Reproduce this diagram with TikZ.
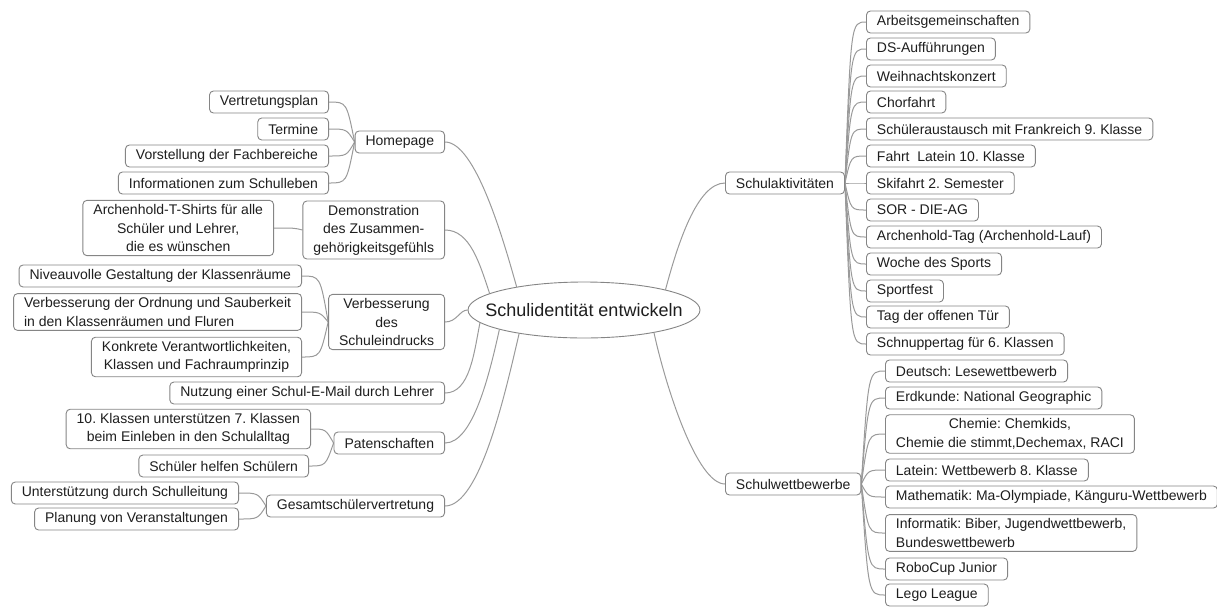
\documentclass[tikz,border=0pt]{standalone}
\usepackage{fontspec}
\setmainfont{Liberation Sans}
\usetikzlibrary{shapes.geometric,calc,backgrounds}
\definecolor{boxline}{HTML}{858585}
\definecolor{conn}{HTML}{9A9A9A}
\definecolor{txt}{HTML}{1E1E1E}
\frenchspacing
\tikzset{
  box/.style={draw=boxline, line width=0.9pt, rounded corners=4pt, fill=white, text=txt,
    font=\fontsize{14}{18.5}\selectfont, inner xsep=10.5pt, inner ysep=4pt, minimum height=22pt},
  link/.style={draw=conn, line width=1pt},
  centre/.style={ellipse, draw=boxline, line width=0.9pt, fill=white, text=txt,
    font=\fontsize{18}{20}\selectfont, inner xsep=-20pt, inner ysep=0pt,
    minimum width=232pt, minimum height=56pt}
}
\begin{document}
\begin{tikzpicture}[x=1pt,y=-1pt]
\useasboundingbox (0,0) rectangle (1217,606);
\node[centre] (c) at (584,310) {Schulidentität entwickeln};
% left side
\node[box, anchor=east] (hp1) at (329,102) {Vertretungsplan};
\node[box, anchor=east] (hp2) at (329,129) {Termine};
\node[box, anchor=east] (hp3) at (329,156) {Vorstellung der Fachbereiche};
\node[box, anchor=east] (hp4) at (329,183) {Informationen zum Schulleben};
\node[box, anchor=east] (hp) at (445,142) {Homepage};
\node[box, anchor=east, align=center] (dm1) at (274,228) {Archenhold-T-Shirts für alle\\Schüler und Lehrer,\\die es wünschen};
\node[box, anchor=east, align=center] (dm) at (445,230) {Demonstration\\des Zusammen-\\gehörigkeitsgefühls};
\node[box, anchor=east] (vs1) at (302,276) {Niveauvolle Gestaltung der Klassenräume};
\node[box, anchor=east, align=left] (vs2) at (302,312) {Verbesserung der Ordnung und Sauberkeit\\in den Klassenräumen und Fluren};
\node[box, anchor=east, align=center] (vs3) at (302,357) {Konkrete Verantwortlichkeiten,\\Klassen und Fachraumprinzip};
\node[box, anchor=east, align=center] (vs) at (445,322) {Verbesserung\\des\\Schuleindrucks};
\node[box, anchor=east] (nu) at (445,393) {Nutzung einer Schul-E-Mail durch Lehrer};
\node[box, anchor=east, align=center] (pa1) at (311,429) {10. Klassen unterstützen 7. Klassen\\beim Einleben in den Schulalltag};
\node[box, anchor=east] (pa2) at (309,466) {Schüler helfen Schülern};
\node[box, anchor=east] (pa) at (445,443) {Patenschaften};
\node[box, anchor=east] (gs1) at (239,493) {Unterstützung durch Schulleitung};
\node[box, anchor=east] (gs2) at (239,519) {Planung von Veranstaltungen};
\node[box, anchor=east] (gs) at (445,506) {Gesamtschülervertretung};
% right side
\node[box, anchor=west] (sa) at (725,183) {Schulaktivitäten};
\node[box, anchor=west] (a1) at (866,22) {Arbeitsgemeinschaften};
\node[box, anchor=west] (a2) at (866,49) {DS-Aufführungen};
\node[box, anchor=west] (a3) at (866,76) {Weihnachtskonzert};
\node[box, anchor=west] (a4) at (866,102) {Chorfahrt};
\node[box, anchor=west] (a5) at (866,129) {Schüleraustausch mit Frankreich 9. Klasse};
\node[box, anchor=west] (a6) at (866,156) {Fahrt\ \ Latein 10. Klasse};
\node[box, anchor=west] (a7) at (866,183) {Skifahrt 2. Semester};
\node[box, anchor=west] (a8) at (866,210) {SOR - DIE-AG};
\node[box, anchor=west] (a9) at (866,237) {Archenhold-Tag (Archenhold-Lauf)};
\node[box, anchor=west] (a10) at (866,264) {Woche des Sports};
\node[box, anchor=west] (a11) at (866,291) {Sportfest};
\node[box, anchor=west] (a12) at (866,317) {Tag der offenen Tür};
\node[box, anchor=west] (a13) at (866,344) {Schnuppertag für 6. Klassen};
\node[box, anchor=west] (sw) at (725,484) {Schulwettbewerbe};
\node[box, anchor=west] (b1) at (885,371) {Deutsch: Lesewettbewerb};
\node[box, anchor=west] (b2) at (885,398) {Erdkunde: National Geographic};
\node[box, anchor=west, align=center] (b3) at (885,434) {Chemie: Chemkids,\\Chemie die stimmt,Dechemax, RACI};
\node[box, anchor=west] (b4) at (885,470) {Latein: Wettbewerb 8. Klasse};
\node[box, anchor=west] (b5) at (885,497) {Mathematik: Ma-Olympiade, Känguru-Wettbewerb};
\node[box, anchor=west, align=left] (b6) at (885,533) {Informatik: Biber, Jugendwettbewerb,\\Bundeswettbewerb};
\node[box, anchor=west] (b7) at (885,569) {RoboCup Junior};
\node[box, anchor=west] (b8) at (885,595) {Lego League};
\begin{pgfonlayer}{background}
% main branches
\draw[link] (hp.east) .. controls +(30,0) and +(-14,-50) .. (c.161);
\draw[link] (dm.east) .. controls +(25,0) and +(-10,-30) .. (c.170);
\draw[link] (vs.east) .. controls +(12,0) and +(-8,0) .. (c.180);
\draw[link] (nu.east) .. controls +(25,0) and +(-6,30) .. (c.187);
\draw[link] (pa.east) .. controls +(28,0) and +(-10,45) .. (c.193);
\draw[link] (gs.east) .. controls +(35,0) and +(-14,60) .. (c.200);
\draw[link] (sa.west) .. controls +(-28,0) and +(12,-45) .. (c.14);
\draw[link] (sw.west) .. controls +(-28,0) and +(12,55) .. (c.342);
% sub branches left
\foreach \p/\c in {hp/hp1,hp/hp2,hp/hp3,hp/hp4,dm/dm1,vs/vs1,vs/vs2,vs/vs3,pa/pa1,pa/pa2,gs/gs1,gs/gs2}
  \draw[link] (\p.west) .. controls ($(\p.west |- \c.east)+(-8,0)$) .. (\c.east);
% sub branches right
\foreach \c in {a1,a2,a3,a4,a5,a6,a7,a8,a9,a10,a11,a12,a13}
  \draw[link] (sa.east) .. controls ($(sa.east |- \c.west)+(6,0)$) .. (\c.west);
\foreach \c in {b1,b2,b3,b4,b5,b6,b7,b8}
  \draw[link] (sw.east) .. controls ($(sw.east |- \c.west)+(7,0)$) .. (\c.west);
\end{pgfonlayer}
\end{tikzpicture}
\end{document}
